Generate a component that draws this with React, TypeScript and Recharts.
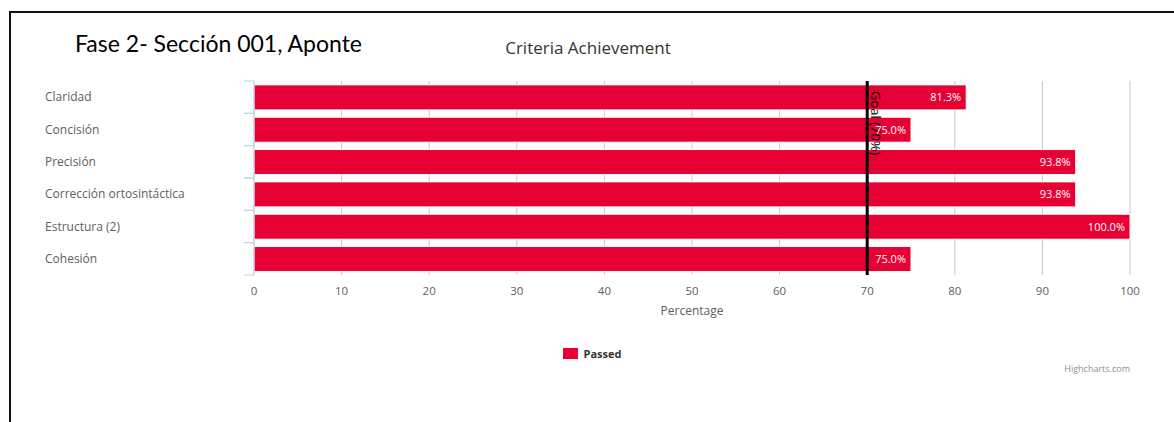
import { BarChart, Bar, XAxis, YAxis, CartesianGrid, ReferenceLine, LabelList, Legend } from 'recharts'

// criterios y porcentaje aprobado
const criteria = ['Claridad', 'Concisión', 'Precisión', 'Corrección ortosintáctica', 'Estructura (2)', 'Cohesión']
const passed = [81.3, 75.0, 93.8, 93.8, 100.0, 75.0]
const xTicks = [0, 10, 20, 30, 40, 50, 60, 70, 80, 90, 100]
const goal = 70

const data = criteria.map((name, i) => ({ name, passed: passed[i] }))

const RED = '#e60034'
const FONT = '"Open Sans", "DejaVu Sans", sans-serif'

function CategoryTick(props: any) {
  const { y, payload } = props
  const half = payload?.offset ?? 16.2
  return (
    <g>
      <line x1={244} x2={254} y1={y - half} y2={y - half} stroke="#C0D0E0" />
      <line x1={244} x2={254} y1={y + half} y2={y + half} stroke="#C0D0E0" />
      <text x={45} y={y} dy={4} textAnchor="start" fontSize={12} fill="#606060" fontFamily={FONT}>
        {payload.value}
      </text>
    </g>
  )
}

function GoalLabel(props: any) {
  const vb = props.viewBox || {}
  const x = (vb.x ?? 0) + 4
  const y = (vb.y ?? 0) + 10
  return (
    <text x={x} y={y} transform={`rotate(90 ${x} ${y})`} fontSize={13} fill="#000" fontFamily={FONT}>
      Goal ({goal}%)
    </text>
  )
}

function LegendBox() {
  return (
    <div style={{ display: 'flex', justifyContent: 'center', alignItems: 'center', fontFamily: FONT }}>
      <span style={{ width: 15, height: 11, background: RED, display: 'inline-block', marginRight: 6 }} />
      <span style={{ fontSize: 11, fontWeight: 'bold', color: '#333' }}>Passed</span>
    </div>
  )
}

export default function App() {
  return (
    <div style={{ position: 'absolute', left: 0, top: 0, width: 1174, height: 422, background: '#fff', fontFamily: FONT }}>
      <div style={{ position: 'absolute', left: 9, top: 11, right: 0, bottom: 0, borderTop: '2px solid #111', borderLeft: '2px solid #111' }} />
      <div style={{ position: 'absolute', left: 75, top: 29, fontSize: 23, fontFamily: 'Lato, sans-serif', fontWeight: 400, color: '#000' }}>
        Fase 2- Sección 001, Aponte
      </div>
      <div style={{ position: 'absolute', left: 0, width: 1176, top: 36, textAlign: 'center', fontSize: 17, color: '#333' }}>
        Criteria Achievement
      </div>
      <div style={{ position: 'absolute', right: 44, top: 362, fontSize: 9, color: '#909090' }}>
        Highcharts.com
      </div>
      <BarChart
        width={1174}
        height={422}
        data={data}
        layout="vertical"
        margin={{ top: 81, right: 44, left: 0, bottom: 117 }}
        barCategoryGap="12%"
      >
        <CartesianGrid horizontal={false} stroke="#C8C8C8" />
        <XAxis
          type="number"
          domain={[0, 100]}
          ticks={xTicks}
          height={30}
          axisLine={false}
          tickLine={false}
          tickSize={10}
          tickMargin={2}
          interval={0}
          tick={{ fontSize: 11.5, fill: '#606060', fontFamily: FONT }}
          label={{ value: 'Percentage', position: 'bottom', offset: 1, fontSize: 12, fill: '#606060', fontFamily: FONT }}
        />
        <YAxis
          type="category"
          dataKey="name"
          width={254}
          axisLine={{ stroke: '#C0D0E0' }}
          tickLine={false}
          tick={<CategoryTick />}
          interval={0}
        />
        <Legend
          layout="horizontal"
          verticalAlign="middle"
          align="center"
          content={<LegendBox />}
          wrapperStyle={{ top: 346, left: 0, width: 1184 }}
        />
        <Bar dataKey="passed" name="Passed" fill={RED} stroke="#fff" strokeWidth={1} isAnimationActive={false}>
          <LabelList
            dataKey="passed"
            position="insideRight"
            offset={5}
            fill="#fff"
            fontSize={11}
            fontFamily={FONT}
            formatter={(v: any) => `${Number(v).toFixed(1)}%`}
          />
        </Bar>
        <ReferenceLine x={goal} stroke="#000" strokeWidth={3} label={<GoalLabel />} />
      </BarChart>
    </div>
  )
}
